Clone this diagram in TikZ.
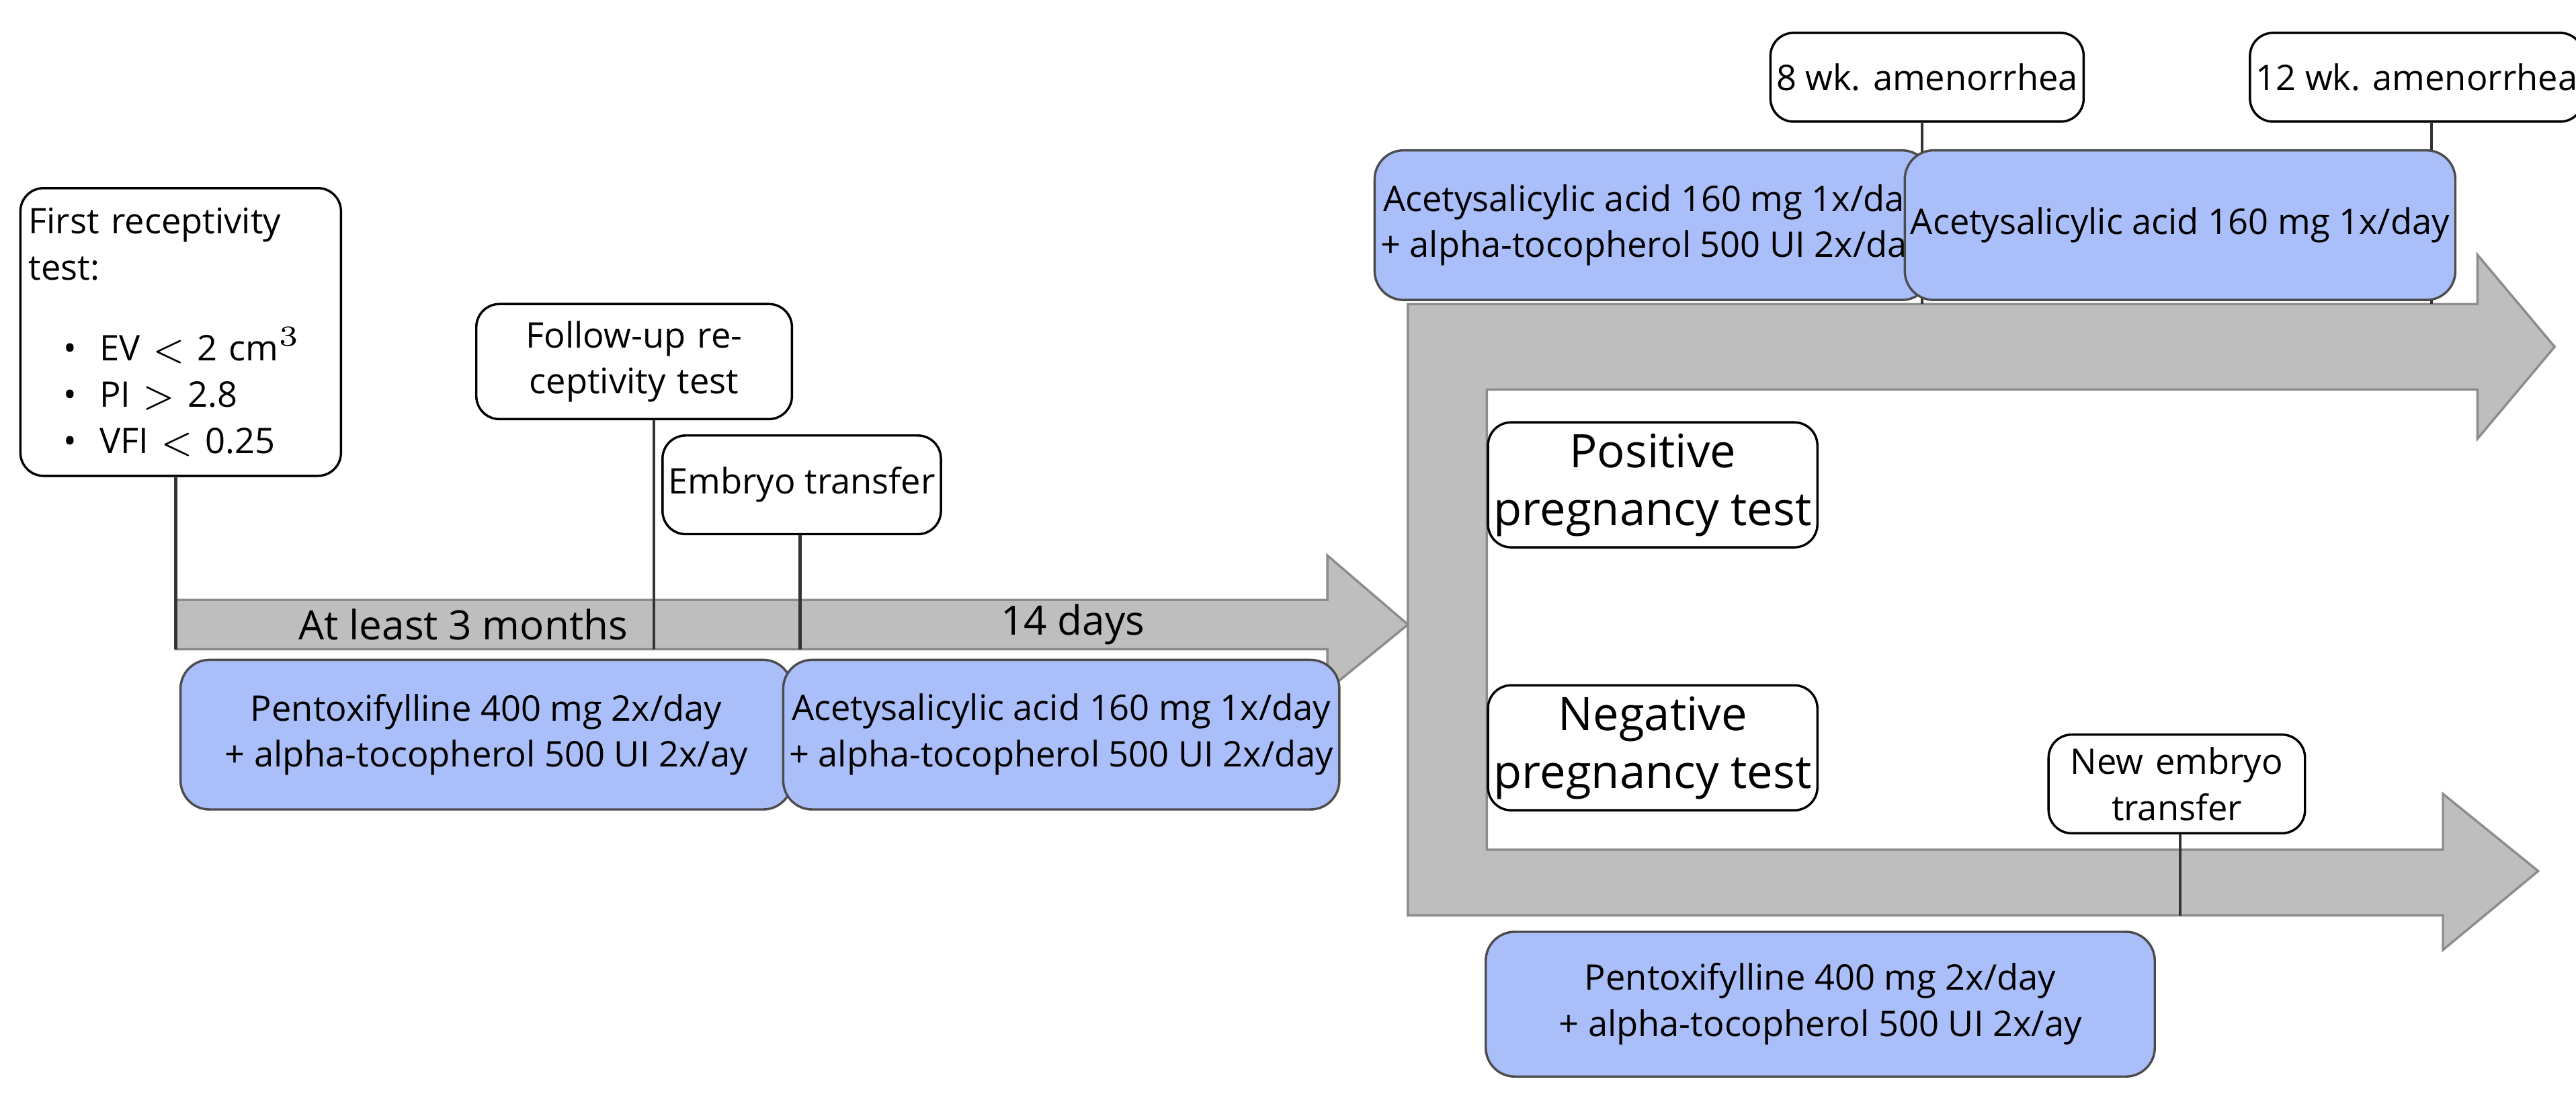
\documentclass[tikz,border=0pt]{standalone}
\usepackage{fontspec}
\setmainfont{Open Sans}
\usetikzlibrary{positioning}
\definecolor{boxblue}{RGB}{170,190,250}
\definecolor{arrowgray}{RGB}{190,190,190}
\tikzset{
  every node/.style={font=\fontsize{6.1}{8}\selectfont},
  note/.style={draw=black, fill=white, rounded corners=4pt, align=center, inner sep=1pt},
  drug/.style={draw=black!70, fill=boxblue, rounded corners=5pt, align=center, inner sep=1pt},
  tick/.style={draw=black!80, line width=0.5pt},
  band/.style={fill=arrowgray, draw=black!45, line width=0.4pt}
}
\begin{document}
\begin{tikzpicture}[x=0.01cm,y=-0.01cm]
\useasboundingbox (0,0) rectangle (1568,675);

% arrows
\path[band] (107,365) -- (808,365) -- (808,338) -- (857,380) -- (808,420) -- (808,395) -- (107,395) -- cycle;
\path[band] (857,185) -- (1508,185) -- (1508,155) -- (1555,211) -- (1508,267) -- (1508,237) -- (905,237)
  -- (905,517) -- (1487,517) -- (1487,483) -- (1545,530) -- (1487,578) -- (1487,557) -- (857,557) -- cycle;

% top notes
\node[note, minimum width=1.95cm, minimum height=1.75cm, text width=1.85cm, align=left] (first) at (110,202) {%
  First receptivity test:\\[6pt]
  \hspace*{6pt}\textbullet\hspace{4pt}EV $<$ 2 cm$^3$\\
  \hspace*{6pt}\textbullet\hspace{4pt}PI $>$ 2.8\\
  \hspace*{6pt}\textbullet\hspace{4pt}VFI $<$ 0.25\\[4pt]};
\node[note, minimum width=1.92cm, minimum height=0.7cm, text width=1.85cm] (follow) at (386,220) {Follow-up receptivity test};
\node[note, minimum width=1.56cm, minimum height=0.6cm] (embryo) at (488,295) {Embryo transfer};
\node[note, minimum width=1.6cm, minimum height=0.54cm] (wk8) at (1173,47) {8 wk. amenorrhea};
\node[note, minimum width=1.67cm, minimum height=0.54cm] (wk12) at (1471,47) {12 wk. amenorrhea};
\node[note, minimum width=1.56cm, minimum height=0.6cm, text width=1.4cm] (newemb) at (1325,477) {New embryo transfer};
\node[note, minimum width=1.88cm, minimum height=0.76cm, font=\fontsize{8}{10}\selectfont] (pos) at (1006,295) {Positive\\pregnancy test};
\node[note, minimum width=1.88cm, minimum height=0.76cm, font=\fontsize{8}{10}\selectfont] (neg) at (1006,455) {Negative\\pregnancy test};

% ticks
\coordinate (t1) at (107,395);
\coordinate (t2) at (398,395);
\coordinate (t3) at (487,395);
\coordinate (t4) at (1170,185);
\coordinate (t5) at (1480,185);
\coordinate (t6) at (1327,557);
\draw[tick] (first.south -| t1) -- (t1);
\draw[tick] (follow.south -| t2) -- (t2);
\draw[tick] (embryo.south -| t3) -- (t3);
\draw[tick] (wk8.south -| t4) -- (t4);
\draw[tick] (wk12.south -| t5) -- (t5);
\draw[tick] (newemb.south -| t6) -- (t6);

\node[font=\fontsize{7}{9}\selectfont] (months) at (282,380) {At least 3 months};
\node[font=\fontsize{7}{9}\selectfont] (days) at (653,380) {14 days};

% treatments
\node[drug, minimum width=3.72cm, minimum height=0.91cm] (pentoA) at (296,447) {Pentoxifylline 400 mg 2x/day\\+ alpha-tocopherol 500 UI 2x/ay};
\node[drug, minimum width=3.13cm, minimum height=0.91cm] (asaA) at (646,447) {Acetysalicylic acid 160 mg 1x/day\\+ alpha-tocopherol 500 UI 2x/day};
\node[drug, minimum width=3.14cm, minimum height=0.91cm] (asaB) at (1006,137) {Acetysalicylic acid 160 mg 1x/day\\+ alpha-tocopherol 500 UI 2x/day};
\node[drug, minimum width=2.89cm, minimum height=0.91cm] (asaC) at (1327,137) {Acetysalicylic acid 160 mg 1x/day};
\node[drug, minimum width=4.07cm, minimum height=0.88cm] (pentoB) at (1108,611) {Pentoxifylline 400 mg 2x/day\\+ alpha-tocopherol 500 UI 2x/ay};
\end{tikzpicture}
\end{document}
